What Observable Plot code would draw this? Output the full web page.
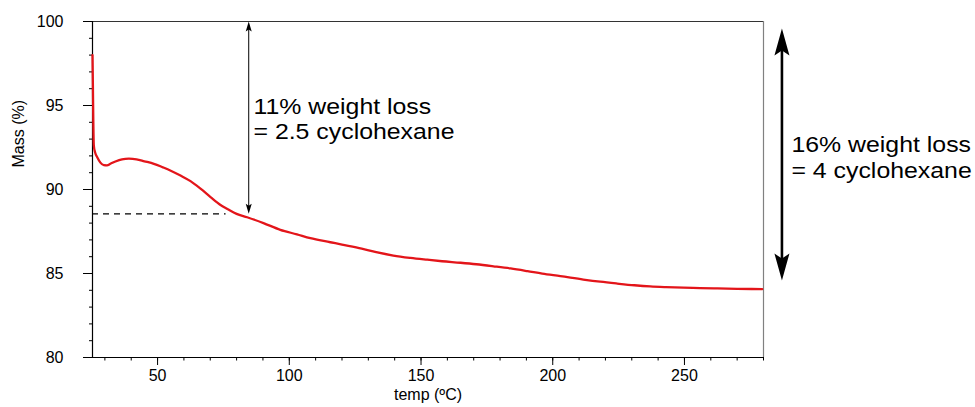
<!DOCTYPE html>
<html><head><meta charset="utf-8">
<script src="https://cdn.jsdelivr.net/npm/d3@7"></script>
<script src="https://cdn.jsdelivr.net/npm/@observablehq/plot@0.6"></script>
<style>html,body{margin:0;padding:0;background:#fff}svg{display:block}</style>
</head><body><div id="chart"></div>
<script>
// Curve (TGA trace)
const temps = [25.3, 25.45, 25.6, 25.8, 26.3, 27.1, 28.3, 29.6, 30.8, 32.1, 34, 36.5, 39.1, 42, 45, 48.6, 52, 55, 58.7, 62.5, 66.3, 70.1, 73.9, 76.5, 77.7, 80, 84, 90.2, 96.6, 102.9, 108, 115.6, 120, 127.5, 133, 139.5, 146, 152.4, 158, 165, 171, 177.5, 184, 190.4, 196, 202.9, 211.6, 218, 224.5, 231, 237, 243, 249.6, 256, 262.5, 270, 279.5];
const masses = [98.0, 96.2, 94.2, 92.62, 92.2, 91.92, 91.6, 91.45, 91.44, 91.53, 91.67, 91.8, 91.84, 91.8, 91.68, 91.53, 91.32, 91.12, 90.83, 90.5, 90.05, 89.55, 89.08, 88.84, 88.73, 88.55, 88.35, 88.0, 87.6, 87.33, 87.1, 86.86, 86.72, 86.48, 86.27, 86.07, 85.93, 85.82, 85.73, 85.64, 85.55, 85.43, 85.3, 85.14, 84.99, 84.84, 84.64, 84.51, 84.4, 84.3, 84.23, 84.19, 84.16, 84.13, 84.11, 84.09, 84.07];

// Axes
const xDomain = [25.3, 280];
const yDomain = [80, 100];
const xMajorTicks = [50, 100, 150, 200, 250];
const xMinorTicks = d3.range(30, 281, 10);
const yMajorTicks = [80, 85, 90, 95, 100];
const yMinorTicks = d3.range(80, 101, 1);
const xLabel = "temp (ºC)";
const yLabel = "Mass (%)";

// Annotations
const dashLevel = [88.55];
const dashStart = 25.3, dashEnd = 76;
const arrowX = [84.6, 287];
const arrowTop = [100, 99.58];
const arrowBottom = [88.55, 84.58];
const noteText = ["11% weight loss\n= 2.5 cyclohexane", "16% weight loss\n= 4 cyclohexane"];
const noteX = [86.4, 290.6];
const noteY = [95.6, 93.33];

const data = temps.map((t, i) => ({temp: t, mass: masses[i]}));
const notes = noteText.map((t, i) => ({text: t, x: noteX[i], y: noteY[i]}));
const heads = arrowX.flatMap((x, i) => [
  {x, y: arrowTop[i], rot: 0, k: i},
  {x, y: arrowBottom[i], rot: 180, k: i}
]);

const headShape = (w, n) => ({
  draw(context, l) {
    context.moveTo(0, -l);
    context.lineTo(w / 2, 0);
    context.lineTo(0, -n);
    context.lineTo(-w / 2, 0);
    context.closePath();
  }
});

const chart = Plot.plot({
  width: 975,
  height: 407,
  marginLeft: 92,
  marginRight: 212,
  marginTop: 21,
  marginBottom: 50,
  style: {fontFamily: "'Liberation Sans', Arial, sans-serif", fontSize: "16px", color: "black", background: "white"},
  x: {domain: xDomain, label: null},
  y: {domain: yDomain, label: null},
  marks: [
    Plot.axisX({ticks: xMinorTicks, tickSize: 3.5, tickFormat: () => "", label: null}),
    Plot.axisX({ticks: xMajorTicks, tickSize: 8, tickPadding: 4, label: null}),
    Plot.axisY({ticks: yMinorTicks, tickSize: 3, tickFormat: () => "", label: null}),
    Plot.axisY({ticks: yMajorTicks, tickSize: 9, tickPadding: 20, label: null}),
    Plot.ruleY([yDomain[1]], {stroke: "#333", strokeWidth: 1}),
    Plot.ruleX([xDomain[1]], {stroke: "#808080", strokeWidth: 1.2}),
    Plot.ruleY([yDomain[0]], {stroke: "black", strokeWidth: 1.2}),
    Plot.ruleX([xDomain[0]], {stroke: "black", strokeWidth: 1.2}),
    Plot.text([xLabel], {frameAnchor: "bottom", dy: 42, fontSize: 16}),
    Plot.text([yLabel], {frameAnchor: "left", dx: -74, dy: -22, rotate: -90, fontSize: 16}),
    Plot.ruleY(dashLevel, {y: d => d, x1: dashStart, x2: dashEnd, stroke: "black", strokeWidth: 1.4, strokeDasharray: "6,5"}),
    Plot.line(data, {x: "temp", y: "mass", stroke: "#e3151a", strokeWidth: 2.3, curve: "monotone-x"}),
    // arrow 1 (thin)
    Plot.ruleX([0], {x: () => arrowX[0], y1: () => arrowTop[0], y2: () => arrowBottom[0], stroke: "black", strokeWidth: 1, insetTop: 4, insetBottom: 4}),
    Plot.vector(heads.filter(d => d.k === 0), {x: "x", y: "y", rotate: "rot", length: 10, anchor: "end", shape: headShape(6, 2), fill: "black", stroke: "none"}),
    // arrow 2 (thick)
    Plot.ruleX([0], {x: () => arrowX[1], y1: () => arrowTop[1], y2: () => arrowBottom[1], stroke: "black", strokeWidth: 2.6, insetTop: 15, insetBottom: 15}),
    Plot.vector(heads.filter(d => d.k === 1), {x: "x", y: "y", rotate: "rot", length: 27, anchor: "end", shape: headShape(15, 5), fill: "black", stroke: "none"}),
    Plot.text(notes, {x: "x", y: "y", text: "text", textAnchor: "start", lineAnchor: "top", fontSize: 22, lineHeight: 1.17, fill: "black"})
  ]
});

document.getElementById("chart").appendChild(chart);

// horizontally widen the annotation lettering like the reference
d3.select(chart).selectAll("text").each(function () {
  if (!/weight loss/.test(this.textContent)) return;
  const t = this.getAttribute("transform");
  if (t) this.setAttribute("transform", t + " scale(1.13,1)");
  else {
    const x = +this.getAttribute("x") || 0, y = +this.getAttribute("y") || 0;
    this.setAttribute("transform", `translate(${x},${y}) scale(1.13,1) translate(${-x},${-y})`);
  }
});
</script>
</body></html>
